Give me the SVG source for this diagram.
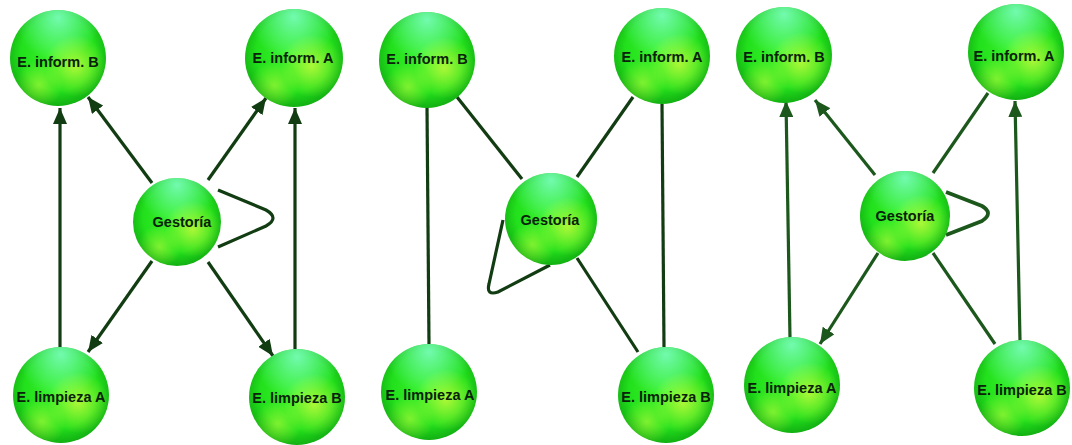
<svg xmlns="http://www.w3.org/2000/svg" width="1072" height="445" viewBox="0 0 1072 445">
<defs>
<radialGradient id="gBase" cx="50%" cy="45%" r="55%">
<stop offset="0" stop-color="#3cf52c"/>
<stop offset="0.7" stop-color="#22e01c"/>
<stop offset="1" stop-color="#12b012"/>
</radialGradient>
<radialGradient id="gTop" cx="50%" cy="8%" r="45%">
<stop offset="0" stop-color="#80ffc8" stop-opacity="0.85"/>
<stop offset="1" stop-color="#80ffc8" stop-opacity="0"/>
</radialGradient>
<radialGradient id="gYel" cx="68%" cy="58%" r="32%">
<stop offset="0" stop-color="#e0ff40" stop-opacity="0.7"/>
<stop offset="1" stop-color="#e0ff40" stop-opacity="0"/>
</radialGradient>
<radialGradient id="gYel2" cx="30%" cy="78%" r="25%">
<stop offset="0" stop-color="#c8ff40" stop-opacity="0.55"/>
<stop offset="1" stop-color="#c8ff40" stop-opacity="0"/>
</radialGradient>
<marker id="arr" markerUnits="userSpaceOnUse" markerWidth="17" markerHeight="14" refX="16" refY="7" orient="auto">
<path d="M0,0 L16,7 L0,14 z" fill="#123c12"/>
</marker>
<marker id="arr3" markerUnits="userSpaceOnUse" markerWidth="17" markerHeight="14" refX="16" refY="7" orient="auto">
<path d="M0,0 L16,7 L0,14 z" fill="#1c571c"/>
</marker>
</defs>
<style>
.b{fill:url(#gBase)}
.t{fill:url(#gTop)}
.y{fill:url(#gYel)}
.y2{fill:url(#gYel2)}
text{font-family:"Liberation Sans",Arial,sans-serif;font-weight:bold;font-size:14.5px;fill:#0a220a;text-anchor:middle}
.e{fill:none;stroke:#123c12;stroke-width:3.2}
.e3{fill:none;stroke:#1c571c;stroke-width:3.2}
.ar{marker-end:url(#arr)}
.ar3{marker-end:url(#arr3)}
</style>
<rect width="1072" height="445" fill="#ffffff"/>
<g id="connectors">
<line class="e ar" x1="60" y1="347" x2="60" y2="108"/>
<line class="e ar" x1="152" y1="183" x2="88" y2="97"/>
<line class="e ar" x1="208" y1="180" x2="266" y2="98"/>
<line class="e ar" x1="295" y1="349" x2="295" y2="108"/>
<line class="e ar" x1="152" y1="261" x2="88" y2="352"/>
<line class="e ar" x1="208" y1="262" x2="273" y2="356"/>
<path class="e" d="M218,190 L266,210 Q280,218 266,226 L218,247"/>
<line class="e" x1="427" y1="107" x2="429" y2="344"/>
<line class="e" x1="457" y1="97" x2="522" y2="179"/>
<line class="e" x1="633" y1="97" x2="577" y2="177"/>
<line class="e" x1="662" y1="104" x2="664" y2="347"/>
<line class="e" x1="577" y1="258" x2="638" y2="352"/>
<path class="e" d="M503,220 L489,284 Q486,296 498,292 L550,265"/>
<line class="e3 ar3" x1="790" y1="338" x2="786" y2="101"/>
<line class="e3 ar3" x1="875" y1="175" x2="815" y2="100"/>
<line class="e3" x1="933" y1="173" x2="988" y2="93"/>
<line class="e3 ar3" x1="1020" y1="341" x2="1015" y2="101"/>
<line class="e3 ar3" x1="878" y1="253" x2="820" y2="344"/>
<line class="e3" x1="933" y1="253" x2="995" y2="344"/>
<path class="e3" d="M946,192 L982,206 Q994,213 982,221 L946,235" style="stroke-width:3.8"/>
</g>
<g id="p1-inform-b"><circle class="b" cx="58" cy="58" r="48"/><circle class="t" cx="58" cy="58" r="48"/><circle class="y" cx="58" cy="58" r="48"/><circle class="y2" cx="58" cy="58" r="48"/><text x="58" y="67">E. inform. B</text></g>
<g id="p1-inform-a"><circle class="b" cx="294" cy="58" r="49"/><circle class="t" cx="294" cy="58" r="49"/><circle class="y" cx="294" cy="58" r="49"/><circle class="y2" cx="294" cy="58" r="49"/><text x="293" y="63">E. inform. A</text></g>
<g id="p1-gestoria"><circle class="b" cx="177" cy="222" r="44"/><circle class="t" cx="177" cy="222" r="44"/><circle class="y" cx="177" cy="222" r="44"/><circle class="y2" cx="177" cy="222" r="44"/><text x="182" y="227">Gestoría</text></g>
<g id="p1-limpieza-a"><circle class="b" cx="61" cy="395" r="48"/><circle class="t" cx="61" cy="395" r="48"/><circle class="y" cx="61" cy="395" r="48"/><circle class="y2" cx="61" cy="395" r="48"/><text x="61" y="402">E. limpieza A</text></g>
<g id="p1-limpieza-b"><circle class="b" cx="297" cy="397" r="48"/><circle class="t" cx="297" cy="397" r="48"/><circle class="y" cx="297" cy="397" r="48"/><circle class="y2" cx="297" cy="397" r="48"/><text x="297" y="403">E. limpieza B</text></g>
<g id="p2-inform-b"><circle class="b" cx="427" cy="60" r="48"/><circle class="t" cx="427" cy="60" r="48"/><circle class="y" cx="427" cy="60" r="48"/><circle class="y2" cx="427" cy="60" r="48"/><text x="427" y="64">E. inform. B</text></g>
<g id="p2-inform-a"><circle class="b" cx="662" cy="56" r="48"/><circle class="t" cx="662" cy="56" r="48"/><circle class="y" cx="662" cy="56" r="48"/><circle class="y2" cx="662" cy="56" r="48"/><text x="662" y="62">E. inform. A</text></g>
<g id="p2-gestoria"><circle class="b" cx="551" cy="219" r="46"/><circle class="t" cx="551" cy="219" r="46"/><circle class="y" cx="551" cy="219" r="46"/><circle class="y2" cx="551" cy="219" r="46"/><text x="550" y="225">Gestoría</text></g>
<g id="p2-limpieza-a"><circle class="b" cx="429" cy="392" r="48"/><circle class="t" cx="429" cy="392" r="48"/><circle class="y" cx="429" cy="392" r="48"/><circle class="y2" cx="429" cy="392" r="48"/><text x="430" y="400">E. limpieza A</text></g>
<g id="p2-limpieza-b"><circle class="b" cx="666" cy="395" r="48"/><circle class="t" cx="666" cy="395" r="48"/><circle class="y" cx="666" cy="395" r="48"/><circle class="y2" cx="666" cy="395" r="48"/><text x="666" y="402">E. limpieza B</text></g>
<g id="p3-inform-b"><circle class="b" cx="784" cy="55" r="48"/><circle class="t" cx="784" cy="55" r="48"/><circle class="y" cx="784" cy="55" r="48"/><circle class="y2" cx="784" cy="55" r="48"/><text x="784" y="62">E. inform. B</text></g>
<g id="p3-inform-a"><circle class="b" cx="1016" cy="52" r="48"/><circle class="t" cx="1016" cy="52" r="48"/><circle class="y" cx="1016" cy="52" r="48"/><circle class="y2" cx="1016" cy="52" r="48"/><text x="1014" y="61">E. inform. A</text></g>
<g id="p3-gestoria"><circle class="b" cx="905" cy="216" r="45"/><circle class="t" cx="905" cy="216" r="45"/><circle class="y" cx="905" cy="216" r="45"/><circle class="y2" cx="905" cy="216" r="45"/><text x="905" y="221">Gestoría</text></g>
<g id="p3-limpieza-a"><circle class="b" cx="792" cy="385" r="48"/><circle class="t" cx="792" cy="385" r="48"/><circle class="y" cx="792" cy="385" r="48"/><circle class="y2" cx="792" cy="385" r="48"/><text x="792" y="393">E. limpieza A</text></g>
<g id="p3-limpieza-b"><circle class="b" cx="1022" cy="388" r="48"/><circle class="t" cx="1022" cy="388" r="48"/><circle class="y" cx="1022" cy="388" r="48"/><circle class="y2" cx="1022" cy="388" r="48"/><text x="1022" y="395">E. limpieza B</text></g>
</svg>
